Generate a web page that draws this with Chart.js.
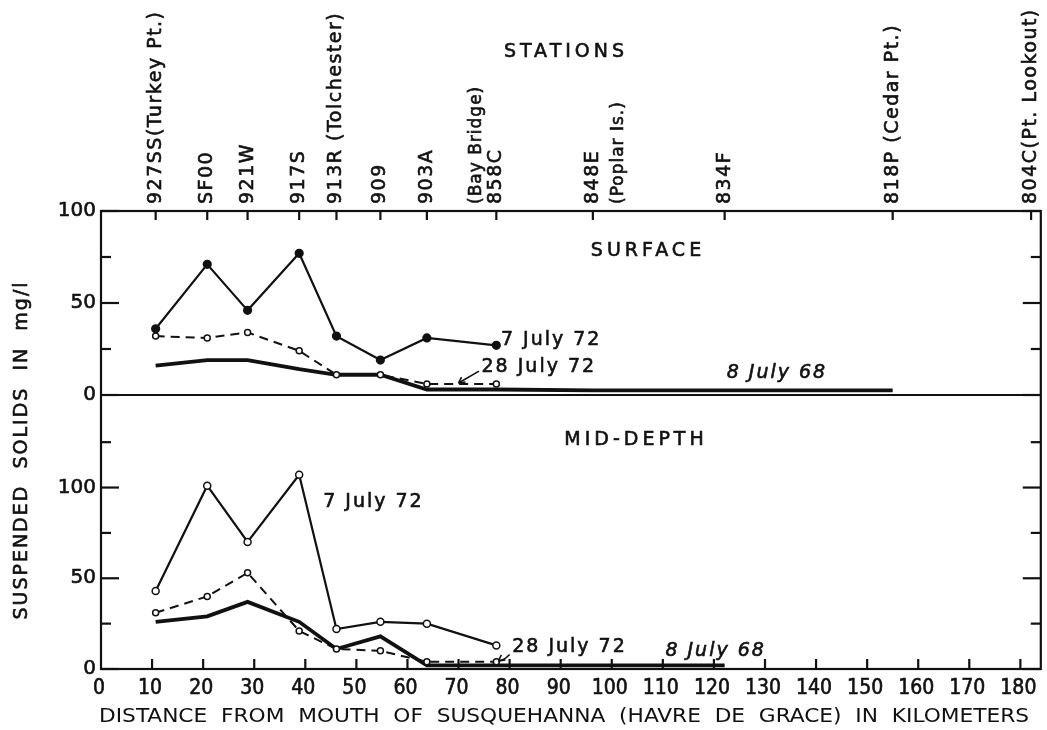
<!DOCTYPE html>
<html>
<head>
<meta charset="utf-8">
<title>Suspended solids, upper Chesapeake Bay</title>
<script src="https://cdn.jsdelivr.net/npm/chart.js@4.4.1/dist/chart.umd.min.js"></script>
<style>
  html, body { margin: 0; padding: 0; background: #fff; }
  canvas { display: block; }
</style>
</head>
<body>
<canvas id="solidsChart" width="1047" height="730"></canvas>
<script>
// stations, km from mouth of Susquehanna
const stationKm = [10.7, 20.8, 28.7, 38.8, 46.1, 54.7, 63.8, 77.4, 96.3, 122.1, 155.0, 182.1];
const stationNames = ["927SS(Turkey Pt.)", "SF00", "921W", "917S", "913R (Tolchester)", "909", "903A", "858C", "848E", "834F", "818P (Cedar Pt.)", "804C(Pt. Lookout)"];
const stationNotes = ["", "", "", "", "", "", "", "(Bay Bridge)", "(Poplar Is.)", "", "", ""];

// 1972 cruises (first eight stations)
const km1972 = [10.7, 20.8, 28.7, 38.8, 46.1, 54.7, 63.8, 77.4];
const surf7July72 = [36, 71, 46, 77, 32, 19, 31, 27];
const surf28July72 = [32, 31, 34, 24, 11, 11, 6, 6];
const mid7July72 = [43, 101, 70, 107, 22, 26, 25, 13];
const mid28July72 = [31, 40, 53, 21, 11, 10, 4, 4];

// 1968 cruise
const kmSurf1968 = [10.7, 20.8, 28.7, 38.8, 46.1, 54.7, 63.8, 77.4, 96.3, 122.1, 155.0];
const surf8July68 = [16, 19, 19, 14, 11, 11, 3, 3, 2.5, 2.5, 2.5];
const kmMid1968 = [10.7, 20.8, 28.7, 38.8, 46.1, 54.7, 63.8, 77.4, 96.3, 122.1];
const mid8July68 = [26, 29, 37, 26, 11, 18, 2, 2, 2, 2];

// axis ticks
const xTicks = [0, 10, 20, 30, 40, 50, 60, 70, 80, 90, 100, 110, 120, 130, 140, 150, 160, 170, 180];
const surfTicks = [0, 50, 100];
const surfMinor = [25, 75];
const midTicks = [0, 50, 100];
const midMinor = [25, 75, 125];

const ink = "#111";
const sans = '"DejaVu Sans", "Open Sans", sans-serif';
const narrow = '"Liberation Sans Narrow", "Arial Narrow", "DejaVu Sans Condensed", sans-serif';

function pairs(xs, ys) {
    return xs.map((x, i) => ({ x: x, y: ys[i] }));
}

// fit text to a given width by squeezing it horizontally
function fitText(ctx, text, cx, cy, width) {
    const w = ctx.measureText(text).width;
    ctx.save();
    ctx.translate(cx, cy);
    ctx.scale(width / w, 1);
    ctx.textAlign = "center";
    ctx.fillText(text, 0, 0);
    ctx.restore();
}

// heavier lettering, like the inked original
function inkText(ctx, text, x, y) {
    ctx.save();
    ctx.lineWidth = 0.6;
    ctx.strokeText(text, x, y);
    ctx.restore();
    ctx.fillText(text, x, y);
}

function seg(ctx, x1, y1, x2, y2) {
    ctx.beginPath();
    ctx.moveTo(x1, y1);
    ctx.lineTo(x2, y2);
    ctx.stroke();
}

const framePlugin = {
    id: "frame",
    afterDraw(chart) {
        const { ctx, chartArea: a, scales } = chart;
        const x = scales.x, ys = scales.ySurf, ym = scales.yMid;
        ctx.save();
        ctx.strokeStyle = ink;
        ctx.fillStyle = ink;
        ctx.lineWidth = 2.2;
        ctx.strokeRect(a.left, a.top, a.right - a.left, a.bottom - a.top);
        const yDiv = ys.getPixelForValue(0);
        seg(ctx, a.left, yDiv, a.right, yDiv);

        // y ticks, inside both side borders
        const yTick = (scale, v, len) => {
            const py = scale.getPixelForValue(v);
            seg(ctx, a.left, py, a.left + len, py);
            seg(ctx, a.right, py, a.right - len, py);
        };
        surfTicks.forEach(v => yTick(ys, v, 18));
        surfMinor.forEach(v => yTick(ys, v, 10));
        midTicks.forEach(v => yTick(ym, v, 18));
        midMinor.forEach(v => yTick(ym, v, 10));

        ctx.font = "20px " + sans;
        ctx.textAlign = "right";
        ctx.textBaseline = "middle";
        surfTicks.forEach(v => inkText(ctx, String(v), a.left - 5, ys.getPixelForValue(v)));
        midTicks.forEach(v => inkText(ctx, String(v), a.left - 5, ym.getPixelForValue(v)));

        // x ticks along the bottom, pointing up
        xTicks.forEach(v => {
            const px = x.getPixelForValue(v);
            if (v > 0) seg(ctx, px, a.bottom, px, a.bottom - 10);
        });
        ctx.font = "21px " + narrow;
        ctx.textAlign = "center";
        ctx.textBaseline = "top";
        xTicks.forEach(v => inkText(ctx, String(v), x.getPixelForValue(v) - 2, a.bottom + 9));

        ctx.font = "20px " + narrow;
        ctx.textBaseline = "middle";
        fitText(ctx, "DISTANCE  FROM  MOUTH  OF  SUSQUEHANNA  (HAVRE  DE  GRACE)  IN  KILOMETERS", 564, a.bottom + 48, 930);

        // station ticks along the top, pointing down, with rotated names
        stationKm.forEach((km, i) => {
            const px = x.getPixelForValue(km);
            seg(ctx, px, a.top, px, a.top + 9);
            ctx.save();
            ctx.translate(px, a.top - 7);
            ctx.rotate(-Math.PI / 2);
            ctx.font = "19px " + sans;
            ctx.letterSpacing = "1.5px";
            ctx.textAlign = "left";
            ctx.textBaseline = "middle";
            inkText(ctx, stationNames[i], 0, 0);
            if (stationNotes[i]) {
                ctx.font = "17px " + sans;
                ctx.letterSpacing = "1px";
                const off = i === 7 ? -20 : 26;
                inkText(ctx, stationNotes[i], 0, off);
            }
            ctx.restore();
        });

        ctx.font = "19px " + sans;
        ctx.letterSpacing = "4px";
        ctx.textAlign = "center";
        ctx.textBaseline = "middle";
        inkText(ctx, "STATIONS", 566, 52);
        inkText(ctx, "SURFACE", 648, ys.getPixelForValue(78));
        inkText(ctx, "MID-DEPTH", 636, ym.getPixelForValue(126));

        // y title
        ctx.save();
        ctx.translate(22, (a.top + a.bottom) / 2 + 10);
        ctx.rotate(-Math.PI / 2);
        ctx.font = "19px " + sans;
        ctx.letterSpacing = "2px";
        inkText(ctx, "SUSPENDED  SOLIDS  IN  mg/l", 0, 0);
        ctx.restore();

        // series labels
        ctx.letterSpacing = "2px";
        ctx.textAlign = "left";
        ctx.font = "19px " + sans;
        inkText(ctx, "7 July 72", x.getPixelForValue(78.3), ys.getPixelForValue(30));
        inkText(ctx, "28 July 72", x.getPixelForValue(74.5), ys.getPixelForValue(15));
        inkText(ctx, "7 July 72", x.getPixelForValue(43.5), ym.getPixelForValue(92));
        inkText(ctx, "28 July 72", x.getPixelForValue(80.5), ym.getPixelForValue(12));
        ctx.font = "italic 19px " + sans;
        inkText(ctx, "8 July 68", x.getPixelForValue(122.5), ys.getPixelForValue(12));
        inkText(ctx, "8 July 68", x.getPixelForValue(110.5), ym.getPixelForValue(10));

        // small arrows from the 28 July labels to their curves
        ctx.lineWidth = 1.6;
        const arrow = (scale, k1, v1, k2, v2) => {
            const x1 = x.getPixelForValue(k1), y1 = scale.getPixelForValue(v1);
            const x2 = x.getPixelForValue(k2), y2 = scale.getPixelForValue(v2);
            ctx.beginPath();
            ctx.moveTo(x1, y1);
            ctx.quadraticCurveTo((x1 + x2) / 2, y1 + 6, x2, y2);
            ctx.stroke();
            seg(ctx, x2, y2, x2 + 7, y2 - 1);
            seg(ctx, x2, y2, x2 + 3, y2 - 6);
        };
        arrow(ys, 74, 13, 70, 6.5);
        arrow(ym, 80, 8, 77.8, 4.5);
        ctx.restore();
    }
};

const ctx = document.getElementById("solidsChart").getContext("2d");
const solidsChart = new Chart(ctx, {
    type: "line",
    data: {
        datasets: [
            {
                label: "7 July 72 surface",
                data: pairs(km1972, surf7July72),
                yAxisID: "ySurf",
                borderColor: ink,
                borderWidth: 2.2,
                pointRadius: 3.5,
                pointBackgroundColor: ink,
                pointBorderColor: ink,
            },
            {
                label: "28 July 72 surface",
                data: pairs(km1972, surf28July72),
                yAxisID: "ySurf",
                borderColor: ink,
                borderWidth: 2,
                borderDash: [9, 6],
                pointRadius: 3,
                pointBorderWidth: 1.5,
                pointBackgroundColor: "#fff",
                pointBorderColor: ink,
            },
            {
                label: "8 July 68 surface",
                data: pairs(kmSurf1968, surf8July68),
                yAxisID: "ySurf",
                borderColor: ink,
                borderWidth: 3.8,
                pointRadius: 0,
            },
            {
                label: "7 July 72 mid-depth",
                data: pairs(km1972, mid7July72),
                yAxisID: "yMid",
                borderColor: ink,
                borderWidth: 2.2,
                pointRadius: 3.5,
                pointBorderWidth: 1.5,
                pointBackgroundColor: "#fff",
                pointBorderColor: ink,
            },
            {
                label: "28 July 72 mid-depth",
                data: pairs(km1972, mid28July72),
                yAxisID: "yMid",
                borderColor: ink,
                borderWidth: 2,
                borderDash: [9, 6],
                pointRadius: 3,
                pointBorderWidth: 1.5,
                pointBackgroundColor: "#fff",
                pointBorderColor: ink,
            },
            {
                label: "8 July 68 mid-depth",
                data: pairs(kmMid1968, mid8July68),
                yAxisID: "yMid",
                borderColor: ink,
                borderWidth: 3.8,
                pointRadius: 0,
            },
        ],
    },
    options: {
        responsive: false,
        animation: false,
        layout: {
            padding: { left: 101, right: 4, top: 211, bottom: 61 },
        },
        plugins: {
            legend: { display: false },
            tooltip: { enabled: false },
        },
        scales: {
            x: { type: "linear", min: 0, max: 184, display: false },
            ySurf: {
                type: "linear", min: 0, max: 100, display: false,
                stack: "panels", stackWeight: 184, weight: 2,
            },
            yMid: {
                type: "linear", min: 0, max: 151, display: false,
                stack: "panels", stackWeight: 274, weight: 1,
            },
        },
    },
    plugins: [framePlugin],
});
</script>
</body>
</html>
